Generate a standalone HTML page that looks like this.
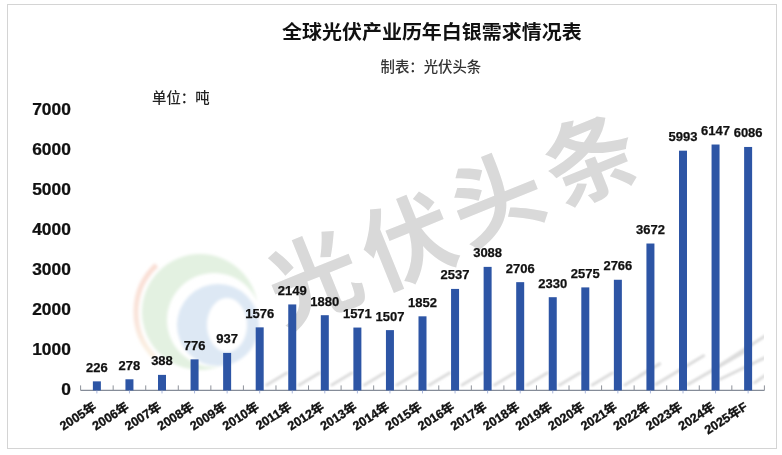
<!DOCTYPE html>
<html lang="zh-CN"><head><meta charset="utf-8"><title>全球光伏产业历年白银需求情况表</title>
<style>
html,body{margin:0;padding:0;background:#fff;}
body{width:782px;height:455px;overflow:hidden;position:relative;}
.frame{position:absolute;left:7px;top:4px;width:770px;height:445px;box-sizing:border-box;border:1px solid #d4d4d4;}
svg{position:absolute;left:0;top:0;}
svg text{font-family:"Liberation Sans", "Noto Sans CJK SC", sans-serif;}
</style></head><body>
<div class="frame"></div>
<svg width="782" height="455" viewBox="0 0 782 455">

<defs><filter id="bl" x="-20%" y="-20%" width="140%" height="140%"><feGaussianBlur stdDeviation="1.6"/></filter></defs>
<mask id="gm" maskUnits="userSpaceOnUse" x="0" y="0" width="782" height="455"><rect x="0" y="0" width="782" height="455" fill="#fff"/><circle cx="214" cy="320" r="47" fill="#000"/></mask>
<g filter="url(#bl)">
<linearGradient id="og" x1="0" y1="265" x2="0" y2="360" gradientUnits="userSpaceOnUse"><stop offset="0" stop-color="#f9ddd3"/><stop offset="0.6" stop-color="#f9e4da"/><stop offset="1" stop-color="#fbf3e4"/></linearGradient>
<path d="M 156.4 265.2 A 64 64 0 0 0 154.7 357.3" fill="none" stroke="url(#og)" stroke-width="5"/>
<circle cx="200" cy="312" r="58" fill="#e3f1e1" mask="url(#gm)"/>
<circle cx="218" cy="325" r="41" fill="#dde8f4"/>
<ellipse cx="227" cy="325" rx="20" ry="27" fill="#ffffff"/>
</g>
<text x="311.5" y="273" text-anchor="middle" dominant-baseline="central" transform="rotate(-22 311.5 273)" font-size="92" font-weight="700" fill="#d9d9d9" style="font-family:'Noto Sans CJK SC',sans-serif">光</text>
<text x="405.5" y="235.7" text-anchor="middle" dominant-baseline="central" transform="rotate(-22 405.5 235.7)" font-size="92" font-weight="700" fill="#d9d9d9" style="font-family:'Noto Sans CJK SC',sans-serif">伏</text>
<text x="494" y="192" text-anchor="middle" dominant-baseline="central" transform="rotate(-22 494 192)" font-size="92" font-weight="700" fill="#d9d9d9" style="font-family:'Noto Sans CJK SC',sans-serif">头</text>
<text x="588.0" y="153.3" text-anchor="middle" dominant-baseline="central" transform="rotate(-22 588.0 153.3)" font-size="92" font-weight="700" fill="#d9d9d9" style="font-family:'Noto Sans CJK SC',sans-serif">条</text>
<defs><filter id="bl2" x="-30%" y="-100%" width="160%" height="300%"><feGaussianBlur stdDeviation="1.2"/></filter><clipPath id="pc"><rect x="80" y="100" width="684" height="290"/></clipPath></defs>
<g filter="url(#bl2)" clip-path="url(#pc)" stroke="#dcdcdc" stroke-width="3" stroke-linecap="round">
<line x1="266.7" y1="385" x2="286.7" y2="373"/>
<line x1="299.3" y1="385" x2="319.3" y2="373"/>
<line x1="331.8" y1="385" x2="351.8" y2="373"/>
<line x1="364.4" y1="385" x2="384.4" y2="373"/>
<line x1="396.9" y1="385" x2="416.9" y2="373"/>
<line x1="429.5" y1="385" x2="449.5" y2="373"/>
<line x1="462.1" y1="385" x2="482.1" y2="373"/>
<line x1="494.6" y1="385" x2="514.6" y2="373"/>
<line x1="527.2" y1="385" x2="547.2" y2="373"/>
<line x1="559.7" y1="385" x2="579.7" y2="373"/>
<line x1="592.3" y1="385" x2="612.3" y2="373"/>
<line x1="624.9" y1="385" x2="644.9" y2="373"/>
<line x1="640.0" y1="375.5" x2="659.7" y2="363.9"/>
<line x1="656.0" y1="384.4" x2="703.6" y2="355.8"/>
<line x1="688.0" y1="384.4" x2="743.8" y2="352.2"/>
<line x1="720.6" y1="364.8" x2="765.0" y2="336"/>
<line x1="720.6" y1="379" x2="765.0" y2="357.6"/>
<line x1="754.6" y1="382.7" x2="765.0" y2="375.5"/>
</g>
<line x1="80.6" y1="390.4" x2="764.4" y2="390.4" stroke="#858c98" stroke-width="1.1"/>
<line x1="80.60" y1="385.4" x2="80.60" y2="390.4" stroke="#8e929a" stroke-width="1"/>
<line x1="113.16" y1="385.4" x2="113.16" y2="390.4" stroke="#8e929a" stroke-width="1"/>
<line x1="145.72" y1="385.4" x2="145.72" y2="390.4" stroke="#8e929a" stroke-width="1"/>
<line x1="178.29" y1="385.4" x2="178.29" y2="390.4" stroke="#8e929a" stroke-width="1"/>
<line x1="210.85" y1="385.4" x2="210.85" y2="390.4" stroke="#8e929a" stroke-width="1"/>
<line x1="243.41" y1="385.4" x2="243.41" y2="390.4" stroke="#8e929a" stroke-width="1"/>
<line x1="275.97" y1="385.4" x2="275.97" y2="390.4" stroke="#8e929a" stroke-width="1"/>
<line x1="308.53" y1="385.4" x2="308.53" y2="390.4" stroke="#8e929a" stroke-width="1"/>
<line x1="341.10" y1="385.4" x2="341.10" y2="390.4" stroke="#8e929a" stroke-width="1"/>
<line x1="373.66" y1="385.4" x2="373.66" y2="390.4" stroke="#8e929a" stroke-width="1"/>
<line x1="406.22" y1="385.4" x2="406.22" y2="390.4" stroke="#8e929a" stroke-width="1"/>
<line x1="438.78" y1="385.4" x2="438.78" y2="390.4" stroke="#8e929a" stroke-width="1"/>
<line x1="471.34" y1="385.4" x2="471.34" y2="390.4" stroke="#8e929a" stroke-width="1"/>
<line x1="503.90" y1="385.4" x2="503.90" y2="390.4" stroke="#8e929a" stroke-width="1"/>
<line x1="536.47" y1="385.4" x2="536.47" y2="390.4" stroke="#8e929a" stroke-width="1"/>
<line x1="569.03" y1="385.4" x2="569.03" y2="390.4" stroke="#8e929a" stroke-width="1"/>
<line x1="601.59" y1="385.4" x2="601.59" y2="390.4" stroke="#8e929a" stroke-width="1"/>
<line x1="634.15" y1="385.4" x2="634.15" y2="390.4" stroke="#8e929a" stroke-width="1"/>
<line x1="666.71" y1="385.4" x2="666.71" y2="390.4" stroke="#8e929a" stroke-width="1"/>
<line x1="699.28" y1="385.4" x2="699.28" y2="390.4" stroke="#8e929a" stroke-width="1"/>
<line x1="731.84" y1="385.4" x2="731.84" y2="390.4" stroke="#8e929a" stroke-width="1"/>
<line x1="764.40" y1="385.4" x2="764.40" y2="390.4" stroke="#8e929a" stroke-width="1"/>
<line x1="96.88" y1="390.4" x2="96.88" y2="393.4" stroke="#a8b6dc" stroke-width="1"/>
<line x1="129.44" y1="390.4" x2="129.44" y2="393.4" stroke="#a8b6dc" stroke-width="1"/>
<line x1="162.00" y1="390.4" x2="162.00" y2="393.4" stroke="#a8b6dc" stroke-width="1"/>
<line x1="194.57" y1="390.4" x2="194.57" y2="393.4" stroke="#a8b6dc" stroke-width="1"/>
<line x1="227.13" y1="390.4" x2="227.13" y2="393.4" stroke="#a8b6dc" stroke-width="1"/>
<line x1="259.69" y1="390.4" x2="259.69" y2="393.4" stroke="#a8b6dc" stroke-width="1"/>
<line x1="292.25" y1="390.4" x2="292.25" y2="393.4" stroke="#a8b6dc" stroke-width="1"/>
<line x1="324.81" y1="390.4" x2="324.81" y2="393.4" stroke="#a8b6dc" stroke-width="1"/>
<line x1="357.38" y1="390.4" x2="357.38" y2="393.4" stroke="#a8b6dc" stroke-width="1"/>
<line x1="389.94" y1="390.4" x2="389.94" y2="393.4" stroke="#a8b6dc" stroke-width="1"/>
<line x1="422.50" y1="390.4" x2="422.50" y2="393.4" stroke="#a8b6dc" stroke-width="1"/>
<line x1="455.06" y1="390.4" x2="455.06" y2="393.4" stroke="#a8b6dc" stroke-width="1"/>
<line x1="487.62" y1="390.4" x2="487.62" y2="393.4" stroke="#a8b6dc" stroke-width="1"/>
<line x1="520.19" y1="390.4" x2="520.19" y2="393.4" stroke="#a8b6dc" stroke-width="1"/>
<line x1="552.75" y1="390.4" x2="552.75" y2="393.4" stroke="#a8b6dc" stroke-width="1"/>
<line x1="585.31" y1="390.4" x2="585.31" y2="393.4" stroke="#a8b6dc" stroke-width="1"/>
<line x1="617.87" y1="390.4" x2="617.87" y2="393.4" stroke="#a8b6dc" stroke-width="1"/>
<line x1="650.43" y1="390.4" x2="650.43" y2="393.4" stroke="#a8b6dc" stroke-width="1"/>
<line x1="683.00" y1="390.4" x2="683.00" y2="393.4" stroke="#a8b6dc" stroke-width="1"/>
<line x1="715.56" y1="390.4" x2="715.56" y2="393.4" stroke="#a8b6dc" stroke-width="1"/>
<line x1="748.12" y1="390.4" x2="748.12" y2="393.4" stroke="#a8b6dc" stroke-width="1"/>
<rect x="92.88" y="381.36" width="8" height="9.04" fill="#2d55a5"/>
<text x="96.88" y="371.86" text-anchor="middle" font-size="13" font-weight="700" fill="#111111" stroke="#111111" stroke-width="0.25">226</text>
<rect x="125.44" y="379.28" width="8" height="11.12" fill="#2d55a5"/>
<text x="129.44" y="369.78" text-anchor="middle" font-size="13" font-weight="700" fill="#111111" stroke="#111111" stroke-width="0.25">278</text>
<rect x="158.00" y="374.88" width="8" height="15.52" fill="#2d55a5"/>
<text x="162.00" y="365.38" text-anchor="middle" font-size="13" font-weight="700" fill="#111111" stroke="#111111" stroke-width="0.25">388</text>
<rect x="190.57" y="359.36" width="8" height="31.04" fill="#2d55a5"/>
<text x="194.57" y="349.86" text-anchor="middle" font-size="13" font-weight="700" fill="#111111" stroke="#111111" stroke-width="0.25">776</text>
<rect x="223.13" y="352.92" width="8" height="37.48" fill="#2d55a5"/>
<text x="227.13" y="343.42" text-anchor="middle" font-size="13" font-weight="700" fill="#111111" stroke="#111111" stroke-width="0.25">937</text>
<rect x="255.69" y="327.36" width="8" height="63.04" fill="#2d55a5"/>
<text x="259.69" y="317.86" text-anchor="middle" font-size="13" font-weight="700" fill="#111111" stroke="#111111" stroke-width="0.25">1576</text>
<rect x="288.25" y="304.44" width="8" height="85.96" fill="#2d55a5"/>
<text x="292.25" y="294.94" text-anchor="middle" font-size="13" font-weight="700" fill="#111111" stroke="#111111" stroke-width="0.25">2149</text>
<rect x="320.81" y="315.20" width="8" height="75.20" fill="#2d55a5"/>
<text x="324.81" y="305.70" text-anchor="middle" font-size="13" font-weight="700" fill="#111111" stroke="#111111" stroke-width="0.25">1880</text>
<rect x="353.38" y="327.56" width="8" height="62.84" fill="#2d55a5"/>
<text x="357.38" y="318.06" text-anchor="middle" font-size="13" font-weight="700" fill="#111111" stroke="#111111" stroke-width="0.25">1571</text>
<rect x="385.94" y="330.12" width="8" height="60.28" fill="#2d55a5"/>
<text x="389.94" y="320.62" text-anchor="middle" font-size="13" font-weight="700" fill="#111111" stroke="#111111" stroke-width="0.25">1507</text>
<rect x="418.50" y="316.32" width="8" height="74.08" fill="#2d55a5"/>
<text x="422.50" y="306.82" text-anchor="middle" font-size="13" font-weight="700" fill="#111111" stroke="#111111" stroke-width="0.25">1852</text>
<rect x="451.06" y="288.92" width="8" height="101.48" fill="#2d55a5"/>
<text x="455.06" y="279.42" text-anchor="middle" font-size="13" font-weight="700" fill="#111111" stroke="#111111" stroke-width="0.25">2537</text>
<rect x="483.62" y="266.88" width="8" height="123.52" fill="#2d55a5"/>
<text x="487.62" y="257.38" text-anchor="middle" font-size="13" font-weight="700" fill="#111111" stroke="#111111" stroke-width="0.25">3088</text>
<rect x="516.19" y="282.16" width="8" height="108.24" fill="#2d55a5"/>
<text x="520.19" y="272.66" text-anchor="middle" font-size="13" font-weight="700" fill="#111111" stroke="#111111" stroke-width="0.25">2706</text>
<rect x="548.75" y="297.20" width="8" height="93.20" fill="#2d55a5"/>
<text x="552.75" y="287.70" text-anchor="middle" font-size="13" font-weight="700" fill="#111111" stroke="#111111" stroke-width="0.25">2330</text>
<rect x="581.31" y="287.40" width="8" height="103.00" fill="#2d55a5"/>
<text x="585.31" y="277.90" text-anchor="middle" font-size="13" font-weight="700" fill="#111111" stroke="#111111" stroke-width="0.25">2575</text>
<rect x="613.87" y="279.76" width="8" height="110.64" fill="#2d55a5"/>
<text x="617.87" y="270.26" text-anchor="middle" font-size="13" font-weight="700" fill="#111111" stroke="#111111" stroke-width="0.25">2766</text>
<rect x="646.43" y="243.52" width="8" height="146.88" fill="#2d55a5"/>
<text x="650.43" y="234.02" text-anchor="middle" font-size="13" font-weight="700" fill="#111111" stroke="#111111" stroke-width="0.25">3672</text>
<rect x="679.00" y="150.68" width="8" height="239.72" fill="#2d55a5"/>
<text x="683.00" y="141.18" text-anchor="middle" font-size="13" font-weight="700" fill="#111111" stroke="#111111" stroke-width="0.25">5993</text>
<rect x="711.56" y="144.52" width="8" height="245.88" fill="#2d55a5"/>
<text x="715.56" y="135.02" text-anchor="middle" font-size="13" font-weight="700" fill="#111111" stroke="#111111" stroke-width="0.25">6147</text>
<rect x="744.12" y="146.96" width="8" height="243.44" fill="#2d55a5"/>
<text x="748.12" y="137.46" text-anchor="middle" font-size="13" font-weight="700" fill="#111111" stroke="#111111" stroke-width="0.25">6086</text>
<text transform="translate(70.8 395.20) scale(1.1 1)" text-anchor="end" font-size="15.8" font-weight="700" fill="#111111" stroke="#111111" stroke-width="0.25">0</text>
<text transform="translate(70.8 355.20) scale(1.1 1)" text-anchor="end" font-size="15.8" font-weight="700" fill="#111111" stroke="#111111" stroke-width="0.25">1000</text>
<text transform="translate(70.8 315.20) scale(1.1 1)" text-anchor="end" font-size="15.8" font-weight="700" fill="#111111" stroke="#111111" stroke-width="0.25">2000</text>
<text transform="translate(70.8 275.20) scale(1.1 1)" text-anchor="end" font-size="15.8" font-weight="700" fill="#111111" stroke="#111111" stroke-width="0.25">3000</text>
<text transform="translate(70.8 235.20) scale(1.1 1)" text-anchor="end" font-size="15.8" font-weight="700" fill="#111111" stroke="#111111" stroke-width="0.25">4000</text>
<text transform="translate(70.8 195.20) scale(1.1 1)" text-anchor="end" font-size="15.8" font-weight="700" fill="#111111" stroke="#111111" stroke-width="0.25">5000</text>
<text transform="translate(70.8 155.20) scale(1.1 1)" text-anchor="end" font-size="15.8" font-weight="700" fill="#111111" stroke="#111111" stroke-width="0.25">6000</text>
<text transform="translate(70.8 115.20) scale(1.1 1)" text-anchor="end" font-size="15.8" font-weight="700" fill="#111111" stroke="#111111" stroke-width="0.25">7000</text>
<text x="97.18" y="409.00" text-anchor="end" transform="rotate(-32.5 97.18 409.00)" font-size="12.5" font-weight="700" fill="#111111" stroke="#111111" stroke-width="0.35">2005年</text>
<text x="129.74" y="409.00" text-anchor="end" transform="rotate(-32.5 129.74 409.00)" font-size="12.5" font-weight="700" fill="#111111" stroke="#111111" stroke-width="0.35">2006年</text>
<text x="162.30" y="409.00" text-anchor="end" transform="rotate(-32.5 162.30 409.00)" font-size="12.5" font-weight="700" fill="#111111" stroke="#111111" stroke-width="0.35">2007年</text>
<text x="194.87" y="409.00" text-anchor="end" transform="rotate(-32.5 194.87 409.00)" font-size="12.5" font-weight="700" fill="#111111" stroke="#111111" stroke-width="0.35">2008年</text>
<text x="227.43" y="409.00" text-anchor="end" transform="rotate(-32.5 227.43 409.00)" font-size="12.5" font-weight="700" fill="#111111" stroke="#111111" stroke-width="0.35">2009年</text>
<text x="259.99" y="409.00" text-anchor="end" transform="rotate(-32.5 259.99 409.00)" font-size="12.5" font-weight="700" fill="#111111" stroke="#111111" stroke-width="0.35">2010年</text>
<text x="292.55" y="409.00" text-anchor="end" transform="rotate(-32.5 292.55 409.00)" font-size="12.5" font-weight="700" fill="#111111" stroke="#111111" stroke-width="0.35">2011年</text>
<text x="325.11" y="409.00" text-anchor="end" transform="rotate(-32.5 325.11 409.00)" font-size="12.5" font-weight="700" fill="#111111" stroke="#111111" stroke-width="0.35">2012年</text>
<text x="357.68" y="409.00" text-anchor="end" transform="rotate(-32.5 357.68 409.00)" font-size="12.5" font-weight="700" fill="#111111" stroke="#111111" stroke-width="0.35">2013年</text>
<text x="390.24" y="409.00" text-anchor="end" transform="rotate(-32.5 390.24 409.00)" font-size="12.5" font-weight="700" fill="#111111" stroke="#111111" stroke-width="0.35">2014年</text>
<text x="422.80" y="409.00" text-anchor="end" transform="rotate(-32.5 422.80 409.00)" font-size="12.5" font-weight="700" fill="#111111" stroke="#111111" stroke-width="0.35">2015年</text>
<text x="455.36" y="409.00" text-anchor="end" transform="rotate(-32.5 455.36 409.00)" font-size="12.5" font-weight="700" fill="#111111" stroke="#111111" stroke-width="0.35">2016年</text>
<text x="487.92" y="409.00" text-anchor="end" transform="rotate(-32.5 487.92 409.00)" font-size="12.5" font-weight="700" fill="#111111" stroke="#111111" stroke-width="0.35">2017年</text>
<text x="520.49" y="409.00" text-anchor="end" transform="rotate(-32.5 520.49 409.00)" font-size="12.5" font-weight="700" fill="#111111" stroke="#111111" stroke-width="0.35">2018年</text>
<text x="553.05" y="409.00" text-anchor="end" transform="rotate(-32.5 553.05 409.00)" font-size="12.5" font-weight="700" fill="#111111" stroke="#111111" stroke-width="0.35">2019年</text>
<text x="585.61" y="409.00" text-anchor="end" transform="rotate(-32.5 585.61 409.00)" font-size="12.5" font-weight="700" fill="#111111" stroke="#111111" stroke-width="0.35">2020年</text>
<text x="618.17" y="409.00" text-anchor="end" transform="rotate(-32.5 618.17 409.00)" font-size="12.5" font-weight="700" fill="#111111" stroke="#111111" stroke-width="0.35">2021年</text>
<text x="650.73" y="409.00" text-anchor="end" transform="rotate(-32.5 650.73 409.00)" font-size="12.5" font-weight="700" fill="#111111" stroke="#111111" stroke-width="0.35">2022年</text>
<text x="683.30" y="409.00" text-anchor="end" transform="rotate(-32.5 683.30 409.00)" font-size="12.5" font-weight="700" fill="#111111" stroke="#111111" stroke-width="0.35">2023年</text>
<text x="715.86" y="409.00" text-anchor="end" transform="rotate(-32.5 715.86 409.00)" font-size="12.5" font-weight="700" fill="#111111" stroke="#111111" stroke-width="0.35">2024年</text>
<text x="748.42" y="409.00" text-anchor="end" transform="rotate(-32.5 748.42 409.00)" font-size="12.5" font-weight="700" fill="#111111" stroke="#111111" stroke-width="0.35">2025年F</text>
<text transform="translate(282 39.4) scale(1 0.94)" font-size="20" font-weight="700" fill="#111111">全球光伏产业历年白银需求情况表</text>
<text x="380.5" y="71.5" font-size="14.4" font-weight="500" fill="#333">制表：光伏头条</text>
<text x="152" y="103" font-size="14.4" font-weight="500" fill="#222">单位：吨</text>
</svg>
</body></html>
